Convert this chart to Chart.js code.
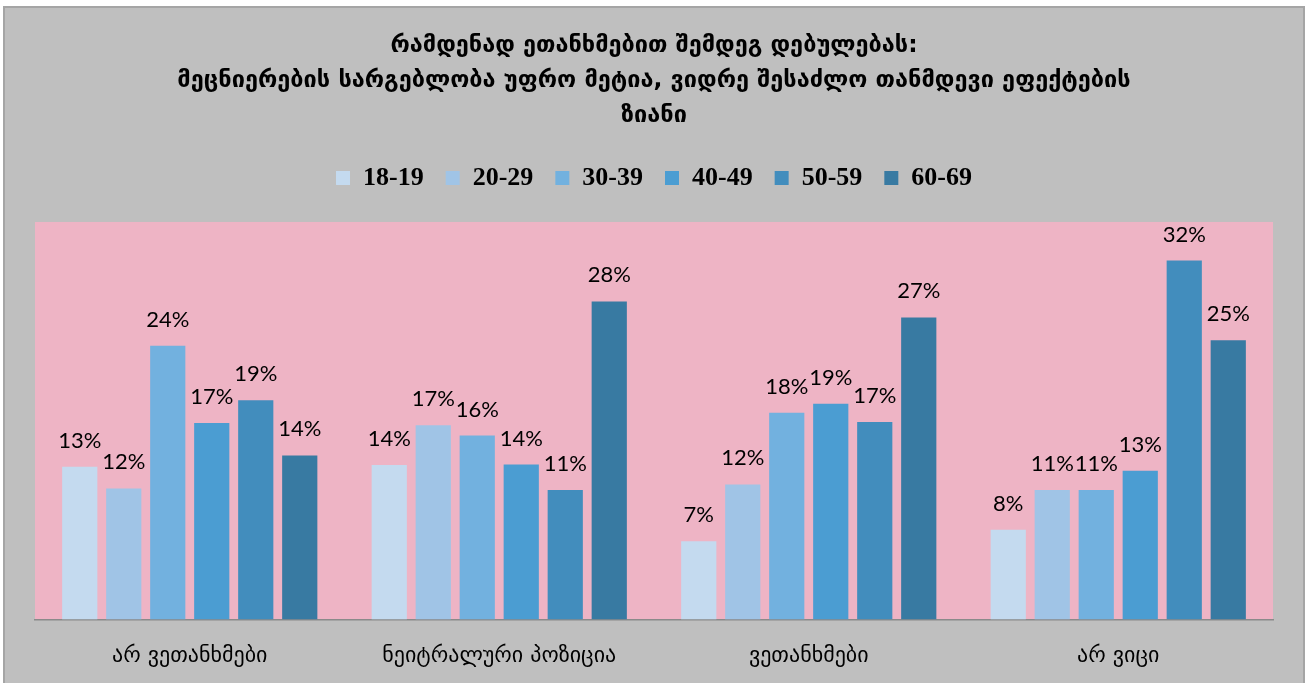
<!DOCTYPE html>
<html>
<head>
<meta charset="utf-8">
<script src="https://cdn.jsdelivr.net/npm/chart.js@4"></script>
<style>
  body { margin: 0; background: #fff; }
  #wrap {
    position: absolute; left: 3px; top: 6px;
    width: 1298px; height: 677px;
    background: #bfbfbf;
    border: 2px solid #a5a5a5; border-bottom: none;
  }
</style>
</head>
<body>
<div id="wrap"><canvas id="myChart" width="1298" height="675"></canvas></div>
<script>
const titleLines = [
  'რამდენად ეთანხმებით შემდეგ დებულებას:',
  'მეცნიერების სარგებლობა უფრო მეტია, ვიდრე შესაძლო თანმდევი ეფექტების',
  'ზიანი'
]
const categories = ['არ ვეთანხმები', 'ნეიტრალური პოზიცია', 'ვეთანხმები', 'არ ვიცი']
const ageGroups = ['18-19', '20-29', '30-39', '40-49', '50-59', '60-69']

// share of respondents, %
const age18 = [13.45, 13.6, 6.9, 7.9]
const age20 = [11.55, 17.1, 11.9, 11.4]
const age30 = [24.1, 16.2, 18.2, 11.4]
const age40 = [17.3, 13.65, 19.0, 13.1]
const age50 = [19.3, 11.4, 17.4, 31.6]
const age60 = [14.45, 28.0, 26.6, 24.6]

const colors = ['#c4daef', '#a0c4e6', '#72b1df', '#4b9dd2', '#428dbd', '#387aa2']
const seriesData = [age18, age20, age30, age40, age50, age60]

const pinkArea = {
  id: 'pinkArea',
  beforeDraw(chart) {
    const { ctx, chartArea } = chart
    ctx.save()
    ctx.fillStyle = '#eeb4c5'
    ctx.fillRect(chartArea.left, chartArea.top, chartArea.right - chartArea.left, chartArea.bottom - chartArea.top)
    ctx.restore()
  }
}

const barLabels = {
  id: 'barLabels',
  afterDatasetsDraw(chart) {
    const ctx = chart.ctx
    ctx.save()
    ctx.font = '22px Lato, "DejaVu Sans"'
    ctx.fillStyle = '#000'
    ctx.textAlign = 'center'
    ctx.textBaseline = 'alphabetic'
    chart.data.datasets.forEach((ds, i) => {
      chart.getDatasetMeta(i).data.forEach((bar, j) => {
        ctx.fillText(Math.round(ds.data[j]) + '%', bar.x, bar.y - 19)
      })
    })
    ctx.restore()
  }
}

new Chart(document.getElementById('myChart'), {
  type: 'bar',
  data: {
    labels: categories,
    datasets: ageGroups.map((g, i) => ({
      label: g,
      data: seriesData[i],
      backgroundColor: colors[i],
      categoryPercentage: 0.853,
      barPercentage: 0.8
    }))
  },
  options: {
    responsive: false,
    animation: false,
    layout: { padding: { left: 30, right: 30, top: 0, bottom: -9 } },
    plugins: {
      title: {
        display: true,
        text: titleLines,
        color: '#000',
        font: { family: '"DejaVu Sans"', size: 23.5, weight: 'bold', lineHeight: 1.489 },
        padding: { top: 20.5, bottom: 9.5 }
      },
      // empty spacer between legend and plot
      subtitle: {
        display: true,
        text: '',
        weight: 500,
        font: { size: 2, lineHeight: 1 },
        padding: { top: 10, bottom: 9 }
      },
      legend: {
        labels: {
          boxWidth: 14,
          boxHeight: 14,
          padding: 22,
          color: '#000',
          font: { family: '"Liberation Serif"', size: 26, weight: 'bold' }
        }
      },
      tooltip: { enabled: false }
    },
    scales: {
      x: {
        grid: { display: false, drawTicks: false },
        border: { display: true, color: '#8a8a8a', width: 1.5 },
        ticks: { color: '#000', padding: 23, font: { family: '"DejaVu Sans"', size: 22 } }
      },
      y: {
        display: false,
        min: 0,
        max: 35
      }
    }
  },
  plugins: [pinkArea, barLabels]
})
</script>
</body>
</html>
